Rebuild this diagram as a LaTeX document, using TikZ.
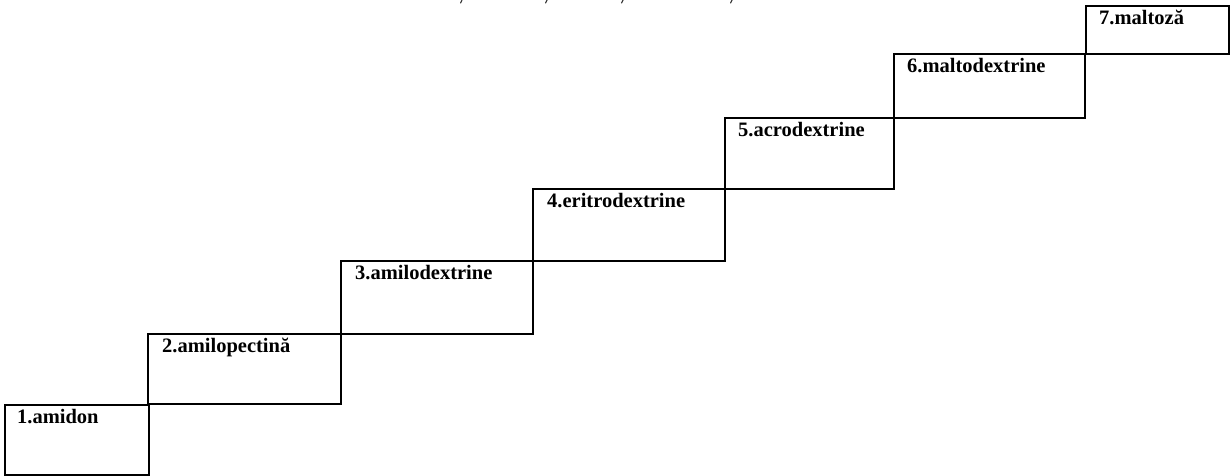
\documentclass[tikz,border=0pt]{standalone}
\usepackage{fontspec}
\newfontfamily\stairfont{Liberation Serif}
\begin{document}
\begin{tikzpicture}[x=1pt,y=-1pt,
  stepbox/.style={draw=black, line width=2pt, rectangle, inner sep=0pt,
    anchor=north west},
  steplabel/.style={anchor=base west, inner sep=0pt,
    font=\stairfont\bfseries\fontsize{20.5}{23}\selectfont},
  cuttail/.style={draw=black!80, line width=1.1pt, line cap=round}]
\useasboundingbox (0,0) rectangle (1230,475);

% staircase of boxes, each step a box shifted up and right
\node[stepbox, minimum width=144pt, minimum height=70pt] (b1) at (4,404) {};
\node[stepbox, minimum width=193pt, minimum height=70pt] (b2) at (147,333) {};
\node[stepbox, minimum width=192pt, minimum height=73pt] (b3) at (340,260) {};
\node[stepbox, minimum width=192pt, minimum height=72pt] (b4) at (532,188) {};
\node[stepbox, minimum width=169pt, minimum height=71pt] (b5) at (724,117) {};
\node[stepbox, minimum width=191pt, minimum height=64pt] (b6) at (893,53) {};
\node[stepbox, minimum width=143pt, minimum height=48pt] (b7) at (1085,5) {};

% labels in the upper left corner of each box
\node[steplabel] (t1) at ([xshift=13pt,yshift=-19pt]b1.north west) {1.amidon};
\node[steplabel] (t2) at ([xshift=15pt,yshift=-19pt]b2.north west) {2.amilopectină};
\node[steplabel] (t3) at ([xshift=15pt,yshift=-19pt]b3.north west) {3.amilodextrine};
\node[steplabel] (t4) at ([xshift=15pt,yshift=-19pt]b4.north west) {4.eritrodextrine};
\node[steplabel] (t5) at ([xshift=14pt,yshift=-19pt]b5.north west) {5.acrodextrine};
\node[steplabel] (t6) at ([xshift=14pt,yshift=-19pt]b6.north west) {6.maltodextrine};
\node[steplabel] (t7) at ([xshift=14pt,yshift=-19pt]b7.north west) {7.maltoză};

% comma tails of a line of text trimmed by the top edge
\foreach \cx [count=\i] in {462,547,623,732} {
  \coordinate (c\i) at (\cx,0);
  \draw[cuttail] (c\i) -- ++(-1.5,3);
}
\end{tikzpicture}
\end{document}
